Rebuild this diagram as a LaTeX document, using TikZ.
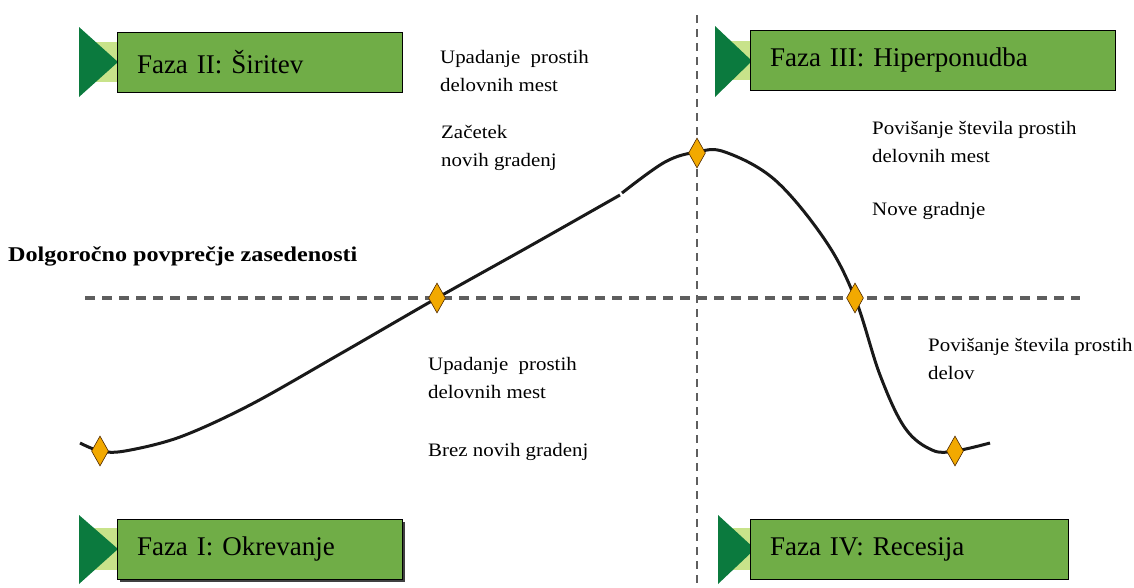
\documentclass[tikz,border=0pt]{standalone}
\usepackage{fontspec}
\setmainfont{Liberation Serif}
\newfontfamily\lblfont[FakeStretch=1.1]{Liberation Serif}
\newfontfamily\boldlblfont[FakeStretch=1.15]{Liberation Serif Bold}
\usetikzlibrary{shapes.geometric}
\definecolor{boxgreen}{HTML}{70AD47}
\definecolor{darkgreen}{HTML}{0B7A3E}
\definecolor{lightgreen}{HTML}{C8E38A}
\definecolor{dashgray}{HTML}{5E5E5E}
\definecolor{dorange}{HTML}{F2A900}
\tikzset{
  phasebox/.style={draw=black, line width=1pt, fill=boxgreen, minimum height=60pt,
    inner xsep=20pt, align=left, font=\fontsize{27}{30}\selectfont, anchor=center},
  tri/.style={fill=darkgreen, draw=none},
  band/.style={fill=lightgreen, draw=none},
  guide/.style={draw=dashgray, line width=3.5pt, dash pattern=on 10pt off 7pt},
  vguide/.style={draw=dashgray, line width=2.5pt, dash pattern=on 8pt off 6pt},
  mark point/.style={diamond, draw=black!70!orange, line width=0.6pt, fill=dorange,
    minimum width=17pt, minimum height=30pt, inner sep=0pt},
  lbl/.style={align=left, anchor=west, font=\lblfont\fontsize{19}{28}\selectfont, inner sep=0pt},
  curve/.style={draw=black!90, line width=3pt}
}
\begin{document}
\begin{tikzpicture}[x=1pt, y=-1pt]
\useasboundingbox (0,0) rectangle (1134,587);
% guides
\draw[vguide] (697,15) -- (697,587);
\draw[guide] (85,298) -- (1080,298);
% curve
\draw[curve] plot[smooth, tension=0.55] coordinates {(80,443) (100,451) (125,451) (180,437) (250,405) (340,354) (437,298) (530,246) (620,195)};
\draw[curve] plot[smooth, tension=0.6] coordinates {(622,193) (665,162) (697,152) (725,152) (775,180) (825,240) (855,298) (880,375) (905,428) (932,450) (955,451) (990,443)};
% diamonds
\node[mark point] (d1) at (100,451) {};
\node[mark point] (d2) at (437,298) {};
\node[mark point] (d3) at (697,153) {};
\node[mark point] (d4) at (855,298) {};
\node[mark point] (d5) at (955,451) {};
% phase boxes
\fill[band] (92,42) rectangle (122,82);
\fill[tri] (79,27) -- (118,62) -- (79,97) -- cycle;
\node[phasebox, minimum width=285pt, text width=245pt] (f2) at (259.5,62) {Faza II: Širitev};

\fill[band] (728,41) rectangle (755,80);
\fill[tri] (715,26) -- (752,61) -- (715,97) -- cycle;
\node[phasebox, minimum width=365pt, text width=325pt] (f3) at (932.5,60.5) {Faza III: Hiperponudba};

\fill[band] (92,528) rectangle (122,570);
\fill[tri] (79,515) -- (118,549) -- (79,584) -- cycle;
\fill[black!75] (120,522) rectangle (405,582);
\node[phasebox, minimum width=285pt, text width=245pt] (f1) at (259.5,549) {Faza I: Okrevanje};

\fill[band] (730,528) rectangle (755,570);
\fill[tri] (718,515) -- (755,549) -- (718,584) -- cycle;
\node[phasebox, minimum width=318pt, text width=278pt] (f4) at (909,549) {Faza IV: Recesija};
% labels
\node[lbl] (t1) at (440,71) {Upadanje\ \ prostih\\delovnih mest};
\node[lbl] (t2) at (441,148) {Začetek\\novih gradenj};
\node[lbl] (t3) at (872,142) {Povišanje števila prostih\\delovnih mest};
\node[lbl] (t4) at (872,211) {Nove gradnje};
\node[lbl, font=\boldlblfont\fontsize{21}{24}\selectfont] (t5) at (8,256) {Dolgoročno povprečje zasedenosti};
\node[lbl] (t6) at (428,378) {Upadanje\ \ prostih\\delovnih mest};
\node[lbl] (t7) at (428,452) {Brez novih gradenj};
\node[lbl] (t8) at (928,359) {Povišanje števila prostih\\delov};
\end{tikzpicture}
\end{document}
